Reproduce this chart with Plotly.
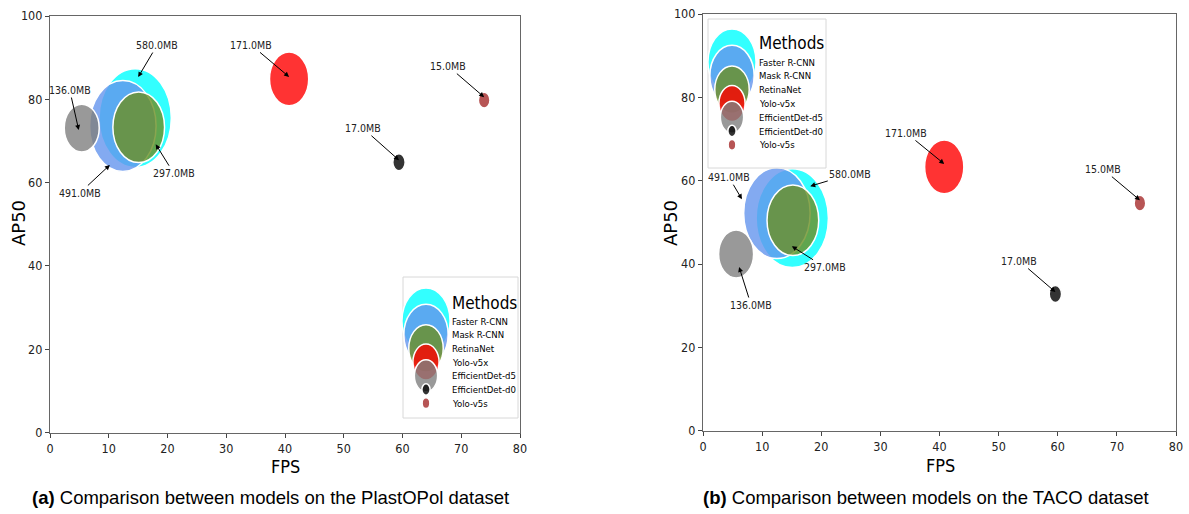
import plotly.graph_objects as go
import math

# ---------------- data ----------------
methods = ["Faster R-CNN", "Mask R-CNN", "RetinaNet", "Yolo-v5x",
           "EfficientDet-d5", "EfficientDet-d0", "Yolo-v5s"]
model_size_mb = [580.0, 491.0, 297.0, 171.0, 136.0, 17.0, 15.0]

plastopol_fps = [14.5, 12.4, 15.1, 40.7, 5.4, 59.4, 73.9]
plastopol_ap50 = [75.5, 73.6, 73.3, 84.9, 73.1, 64.9, 79.8]

taco_fps = [15.1, 12.5, 15.2, 40.8, 5.6, 59.6, 73.9]
taco_ap50 = [51.0, 52.2, 50.5, 63.3, 42.4, 32.8, 54.6]

x_ticks = [0, 10, 20, 30, 40, 50, 60, 70, 80]
y_ticks = [0, 20, 40, 60, 80, 100]

# ---------------- styles ----------------
colors = ["rgba(0,255,255,0.8)", "rgba(100,149,237,0.8)", "rgba(107,142,35,0.8)",
          "rgba(255,0,0,0.8)", "rgba(128,128,128,0.8)", "rgba(0,0,0,0.8)",
          "rgba(165,42,42,0.8)"]

W, H = 1189, 514
FONT = "DejaVu Sans Condensed, Liberation Sans Narrow, DejaVu Sans"

# annotation placement (pixel shifts of arrow head from bubble centre, text offsets)
ann_left = [(3, 41, 19, -32), (-13, -39, -30, 28), (17, -17, 18, 29), (0, 2, -38, -32),
            (-3, -2, -9, -40), (0, 2, -36, -32), (0, 3, -36, -31)]
ann_right = [(18, 32, 40, -12), (-35, 14, -13, -22), (-1, -26, 33, 21), (0, 3, -38, -31),
             (3, -13, 12, 38), (0, 2, -36, -31), (0, 3, -37, -31)]


def px(x):
    return x / W


def py(y):
    return 1 - y / H


fig = go.Figure()
shapes = []
annotations = []


def add_panel(fps, ap, xa, ya, ann):
    xref = "x" if xa == "xaxis" else "x2"
    yref = "y" if ya == "yaxis" else "y2"
    fig.add_trace(go.Scatter(x=fps, y=ap, mode="markers", xaxis=xref, yaxis=yref,
                             marker=dict(size=6, opacity=0), text=methods,
                             customdata=model_size_mb,
                             hovertemplate="%{text}<br>FPS %{x}<br>AP50 %{y}<br>%{customdata}MB<extra></extra>",
                             showlegend=False))
    for i, m in enumerate(methods):
        r = math.sqrt(model_size_mb[i])
        w, h = 3.0 * r, 4.1 * r
        shapes.append(dict(type="circle", xref=xref, yref=yref,
                           xsizemode="pixel", ysizemode="pixel",
                           xanchor=fps[i], yanchor=ap[i],
                           x0=-w / 2, x1=w / 2, y0=-h / 2, y1=h / 2,
                           fillcolor=colors[i], line=dict(color="white", width=1.5),
                           layer="above"))
    for i, m in enumerate(methods):
        xs, ys, ax, ay = ann[i]
        annotations.append(dict(x=fps[i], y=ap[i], xref=xref, yref=yref,
                                xshift=xs, yshift=ys, ax=ax, ay=ay,
                                text=f"{model_size_mb[i]:.1f}MB", showarrow=True,
                                arrowhead=2, arrowsize=1, arrowwidth=1,
                                arrowcolor="black",
                                font=dict(family=FONT, size=10.5, color="#222")))


def add_legend(bx0, by0, bx1, by1, cx_off, tx_off, title_off, first_off, step):
    shapes.append(dict(type="rect", xref="paper", yref="paper",
                       x0=px(bx0), x1=px(bx1), y0=py(by1), y1=py(by0),
                       fillcolor="white", line=dict(color="#d8d8d8", width=1),
                       layer="above"))
    annotations.append(dict(x=px(bx0 + tx_off), y=py(by0 + title_off), xref="paper", yref="paper",
                            text="Methods", showarrow=False, xanchor="left", yanchor="middle",
                            font=dict(family=FONT, size=17, color="black")))
    for i, m in enumerate(methods):
        r = math.sqrt(model_size_mb[i])
        w, h = 2.0 * r, 2.75 * r
        cy = by0 + first_off + i * step
        shapes.append(dict(type="circle", xref="paper", yref="paper",
                           xsizemode="pixel", ysizemode="pixel",
                           xanchor=px(bx0 + cx_off), yanchor=py(cy),
                           x0=-w / 2, x1=w / 2, y0=-h / 2, y1=h / 2,
                           fillcolor=colors[i], line=dict(color="white", width=1.5),
                           layer="above"))
        annotations.append(dict(x=px(bx0 + tx_off), y=py(cy), xref="paper", yref="paper",
                                text=m, showarrow=False, xanchor="left", yanchor="middle",
                                font=dict(family=FONT, size=9.5, color="black")))


add_panel(plastopol_fps, plastopol_ap50, "xaxis", "yaxis", ann_left)
add_panel(taco_fps, taco_ap50, "xaxis2", "yaxis2", ann_right)
add_legend(403, 277, 518, 418, 23, 47, 26, 44, 13.7)
add_legend(708, 19, 826, 168, 24, 49, 24, 43, 13.8)

axis_common = dict(showgrid=False, zeroline=False, showline=True, mirror=True,
                   automargin=False,
                   linecolor="#666", linewidth=1.2, ticks="outside", ticklen=4,
                   tickcolor="#444", tickfont=dict(family=FONT, size=12.5, color="#222"))

fig.update_layout(
    width=W, height=H, margin=dict(l=0, r=0, t=0, b=0, pad=0, autoexpand=False),
    paper_bgcolor="white", plot_bgcolor="white",
    xaxis=dict(domain=[px(50), px(520)], range=[0, 80], tickvals=x_ticks, anchor="y", **axis_common),
    yaxis=dict(domain=[py(432.5), py(16)], range=[0, 100], tickvals=y_ticks, anchor="x", **axis_common),
    xaxis2=dict(domain=[px(703), px(1176)], range=[0, 80], tickvals=x_ticks, anchor="y2", **axis_common),
    yaxis2=dict(domain=[py(430.7), py(14)], range=[0, 100], tickvals=y_ticks, anchor="x2", **axis_common),
    shapes=shapes,
)


def label(x, y, text, size, family=FONT, angle=0):
    return dict(x=px(x), y=py(y), text=text, showarrow=False, xref="paper", yref="paper",
                xanchor="center", yanchor="middle", textangle=angle,
                font=dict(family=family, size=size, color="black"))


annotations += [
    label(285, 466, "FPS", 18),
    label(940, 465, "FPS", 18),
    label(18, 223, "AP50", 18, family="DejaVu Sans", angle=-90),
    label(670, 223, "AP50", 18, family="DejaVu Sans", angle=-90),
    label(270, 497, "<b>(a)</b> Comparison between models on the PlastOPol dataset", 18.5,
          family="Liberation Sans, Arial"),
    label(926, 497, "<b>(b)</b> Comparison between models on the TACO dataset", 18.5,
          family="Liberation Sans, Arial"),
]
fig.update_layout(annotations=annotations)

fig.write_html("out.html")
